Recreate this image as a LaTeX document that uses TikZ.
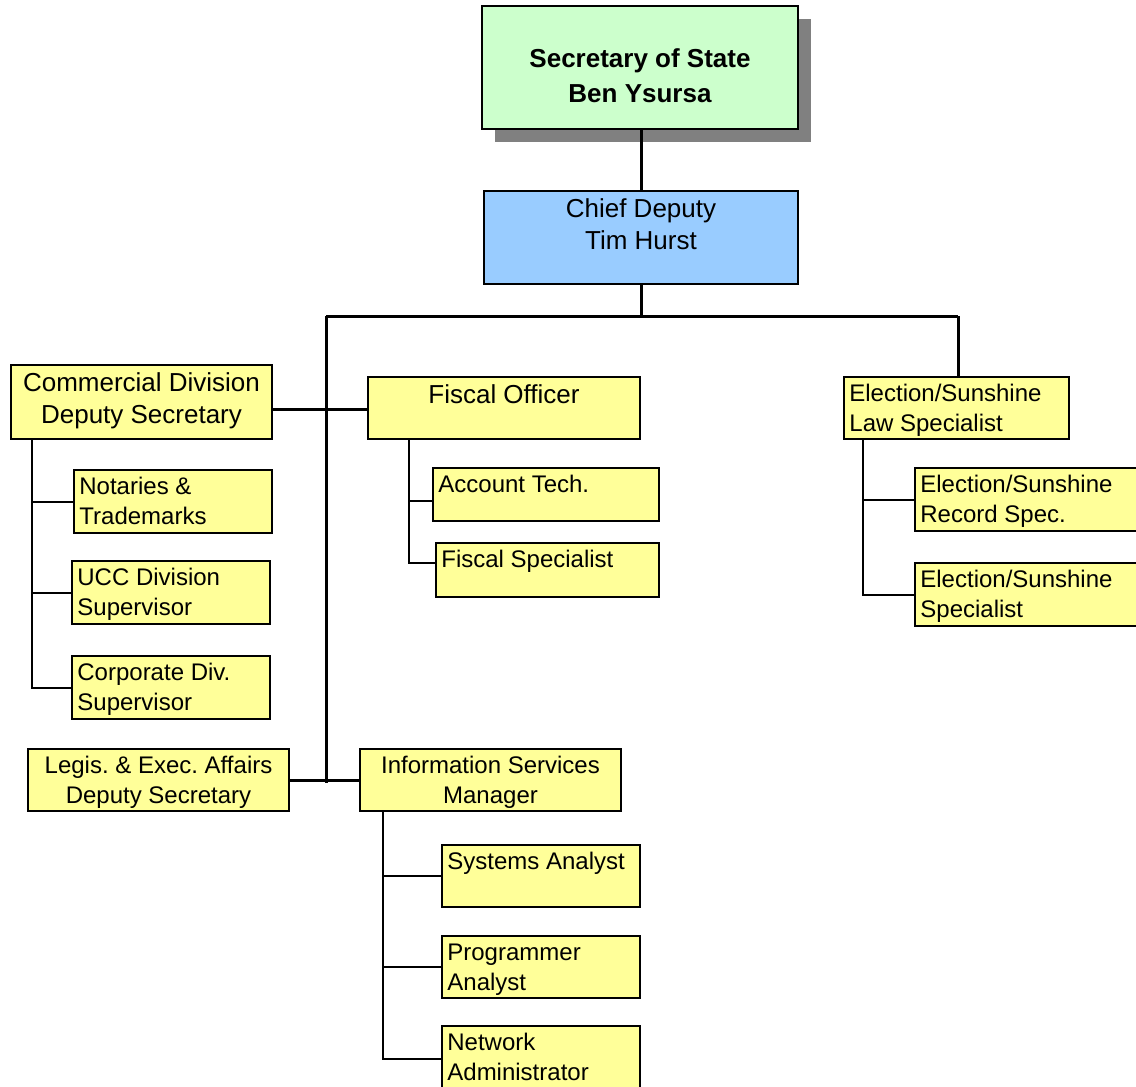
\documentclass[tikz,border=0pt]{standalone}
\usepackage{fontspec}
\setmainfont{Liberation Sans}
\definecolor{boxgreen}{HTML}{CCFFCC}
\definecolor{boxblue}{HTML}{99CCFF}
\definecolor{boxyellow}{HTML}{FFFF99}
\definecolor{shadowgray}{HTML}{808080}
\begin{document}
\frenchspacing
\begin{tikzpicture}[x=0.5pt,y=-0.5pt,
  box/.style={draw=black, line width=1pt, rectangle, inner sep=0pt, outer sep=0pt, anchor=north west},
  yel/.style={box, fill=boxyellow},
  title/.style={inner sep=0pt, align=center, font=\fontsize{13}{17.5}\selectfont\bfseries},
  big/.style={inner sep=0pt, align=center, font=\fontsize{13}{16.25}\selectfont},
  small/.style={inner sep=0pt, font=\fontsize{12}{15}\selectfont},
  smallc/.style={small, align=center, anchor=base},
  smalll/.style={small, align=left, anchor=base west},
  trunk/.style={line width=1.5pt},
  twig/.style={line width=1pt}
]
\clip (0,0) rectangle (1136,1087);

% top of the chart
\fill[shadowgray] (495,19) rectangle (811,142);
\node[box, fill=boxgreen, minimum width=158pt, minimum height=61.5pt, line width=1.2pt] (sos) at (482,6) {};
\node[box, fill=boxblue, minimum width=157pt, minimum height=46.5pt] (chief) at (484,191) {};

% second level
\node[yel, minimum width=130.5pt, minimum height=37pt] (cdd) at (11,365) {};
\node[yel, minimum width=136pt, minimum height=31pt] (fo) at (368,377) {};
\node[yel, minimum width=112.5pt, minimum height=31pt] (els) at (844,377) {};
\node[yel, minimum width=130.5pt, minimum height=31pt] (leg) at (28,749) {};
\node[yel, minimum width=130.5pt, minimum height=31pt] (ism) at (360,749) {};

% commercial division staff
\node[yel, minimum width=99pt, minimum height=31.5pt] (nt) at (74,470) {};
\node[yel, minimum width=99pt, minimum height=31.5pt] (ucc) at (72,561) {};
\node[yel, minimum width=99pt, minimum height=31.5pt] (corp) at (72,656) {};

% fiscal staff
\node[yel, minimum width=113pt, minimum height=26.5pt] (at) at (433,468) {};
\node[yel, minimum width=111.5pt, minimum height=27pt] (fs) at (436,543) {};

% election staff
\node[yel, minimum width=120pt, minimum height=31.5pt] (rs) at (915,468) {};
\node[yel, minimum width=120pt, minimum height=31.5pt] (ess) at (915,563) {};

% information services staff
\node[yel, minimum width=99pt, minimum height=31pt] (sa) at (442,845) {};
\node[yel, minimum width=99pt, minimum height=31pt] (pa) at (442,936) {};
\node[yel, minimum width=99pt, minimum height=33pt] (na) at (442,1026) {};

% labels (the base anchor sits on the last line's baseline)
\node[title, anchor=base] (sos-t) at ([yshift=-48pt]sos.north) {Secretary of State\\Ben Ysursa};
\node[big, anchor=base] (chief-t) at ([yshift=-29.25pt]chief.north) {Chief Deputy\\Tim Hurst};
\node[big, anchor=base] (cdd-t) at ([yshift=-29.25pt]cdd.north) {Commercial Division\\Deputy Secretary};
\node[big, anchor=base] (fo-t) at ([yshift=-13pt]fo.north) {Fiscal Officer};
\node[smalll] (els-t) at ([xshift=2.5pt,yshift=-27pt]els.north west) {Election/Sunshine\\Law Specialist};
\node[smallc] (leg-t) at ([yshift=-27.3pt]leg.north) {Legis. \& Exec. Affairs\\Deputy Secretary};
\node[smallc] (ism-t) at ([yshift=-27.3pt]ism.north) {Information Services\\Manager};
\node[smalll] (nt-t) at ([xshift=2.5pt,yshift=-27pt]nt.north west) {Notaries \&\\Trademarks};
\node[smalll] (ucc-t) at ([xshift=2.5pt,yshift=-27pt]ucc.north west) {UCC Division\\Supervisor};
\node[smalll] (corp-t) at ([xshift=2.5pt,yshift=-27pt]corp.north west) {Corporate Div.\\Supervisor};
\node[smalll] (at-t) at ([xshift=2.5pt,yshift=-12pt]at.north west) {Account Tech.};
\node[smalll] (fs-t) at ([xshift=2.5pt,yshift=-12pt]fs.north west) {Fiscal Specialist};
\node[smalll] (rs-t) at ([xshift=2.5pt,yshift=-27pt]rs.north west) {Election/Sunshine\\Record Spec.};
\node[smalll] (ess-t) at ([xshift=2.5pt,yshift=-27pt]ess.north west) {Election/Sunshine\\Specialist};
\node[smalll] (sa-t) at ([xshift=2.5pt,yshift=-12pt]sa.north west) {Systems Analyst};
\node[smalll] (pa-t) at ([xshift=2.5pt,yshift=-27pt]pa.north west) {Programmer\\Analyst};
\node[smalll] (na-t) at ([xshift=2.5pt,yshift=-27pt]na.north west) {Network\\Administrator};

% main reporting lines
\coordinate (jL) at (326,316);
\coordinate (jR) at (958,316);
\coordinate (jBot) at (326,783);
\coordinate (cfy) at (0,409);
\draw[trunk] (sos.south -| chief.north) -- (chief.north);
\draw[trunk] (chief.south) -- (chief.south |- jL);
\draw[trunk] (jL) -- (jR);
\draw[trunk] (jR) -- (jR |- els.north);
\draw[trunk] (jL) -- (jBot);
\draw[trunk] (cdd.east |- cfy) -- (fo.west |- cfy);
\draw[trunk] (leg.east) -- (ism.west);

% staff lines
\coordinate (cx) at (32,0);
\coordinate (fx) at (409,0);
\coordinate (ex) at (863,0);
\coordinate (ix) at (383,0);
\coordinate (aty) at (0,501);
\coordinate (fsy) at (0,563);
\draw[twig] (cx |- cdd.south) |- (corp.west);
\draw[twig] (cx |- nt.west) -- (nt.west);
\draw[twig] (cx |- ucc.west) -- (ucc.west);
\draw[twig] (fx |- fo.south) |- (fs.west |- fsy);
\draw[twig] (fx |- aty) -- (at.west |- aty);
\draw[twig] (ex |- els.south) |- (ess.west);
\draw[twig] (ex |- rs.west) -- (rs.west);
\draw[twig] (ix |- ism.south) |- (na.west);
\draw[twig] (ix |- sa.west) -- (sa.west);
\draw[twig] (ix |- pa.west) -- (pa.west);
\end{tikzpicture}
\end{document}
